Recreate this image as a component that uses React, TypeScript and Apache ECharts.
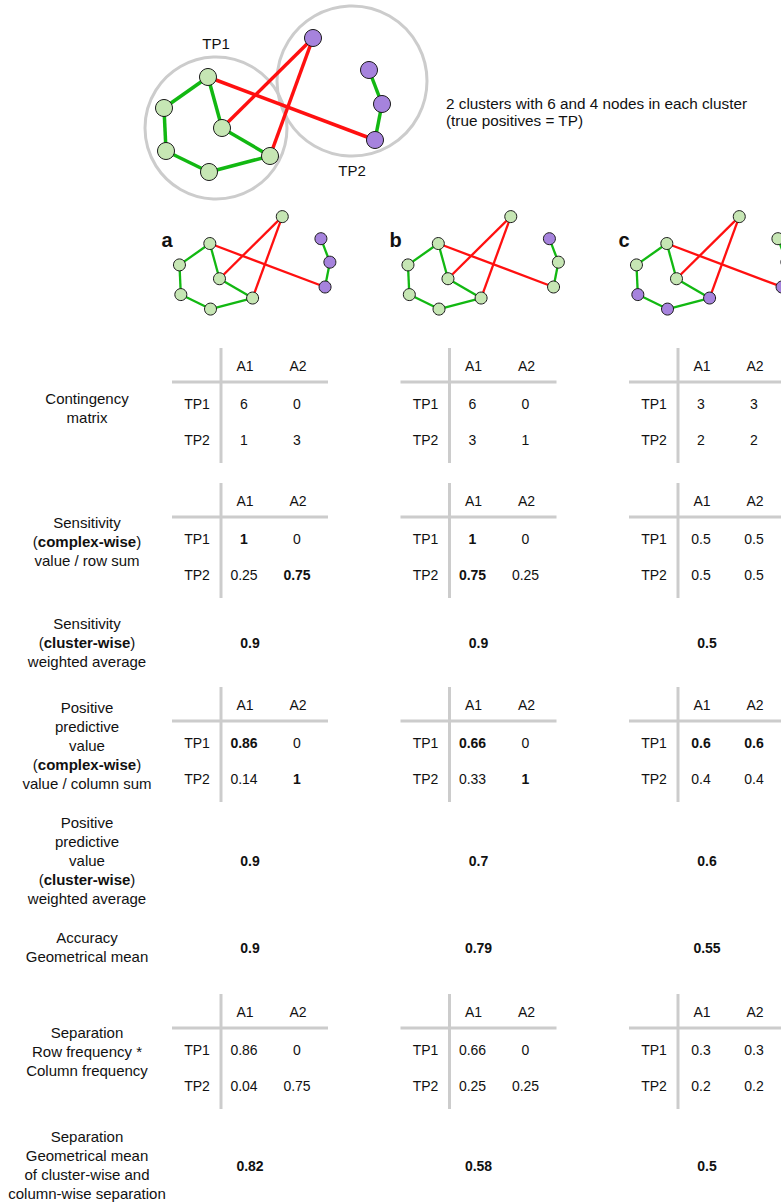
import React, { useEffect, useRef } from "react";
import * as echarts from "echarts";

// ---- Network: node layout (reference layout units) and clustering ----
const nodeX = [208, 164, 222, 166, 209, 270, 313, 369, 382, 375];
const nodeY = [77, 108, 128, 151, 172, 156, 38, 70, 104, 140];
// true complexes: 0 = TP1, 1 = TP2
const trueCluster = [0, 0, 0, 0, 0, 0, 1, 1, 1, 1];
const edges: [number, number][] = [
  [0, 1], [1, 3], [3, 4], [4, 5], [5, 2], [2, 0],
  [7, 8], [8, 9],
  [0, 9], [2, 6], [5, 6],
];
// predicted clusters per panel: 0 = A1, 1 = A2
const panelNames = ["a", "b", "c"];
const predicted = [
  [0, 0, 0, 0, 0, 0, 0, 1, 1, 1],
  [0, 0, 0, 0, 0, 0, 0, 1, 0, 0],
  [0, 0, 0, 1, 1, 1, 0, 0, 1, 1],
];
// cluster outlines (centre x, centre y, radius) and names
const hullNames = ["TP1", "TP2"];
const hullX = [216, 352];
const hullY = [128, 81];
const hullR = [71, 75];

// ---- Tables ----
const columnLabels = ["A1", "A2"];
const rowLabels = ["TP1", "TP2"];
const contingency = [
  [[6, 0], [1, 3]],
  [[6, 0], [3, 1]],
  [[3, 3], [2, 2]],
];
const sensComplex = [
  [[1, 0], [0.25, 0.75]],
  [[1, 0], [0.75, 0.25]],
  [[0.5, 0.5], [0.5, 0.5]],
];
const sensComplexBold = [
  [[1, 0], [0, 1]],
  [[1, 0], [1, 0]],
  [[0, 0], [0, 0]],
];
const sensCluster = [0.9, 0.9, 0.5];
const ppvComplex = [
  [[0.86, 0], [0.14, 1]],
  [[0.66, 0], [0.33, 1]],
  [[0.6, 0.6], [0.4, 0.4]],
];
const ppvComplexBold = [
  [[1, 0], [0, 1]],
  [[1, 0], [0, 1]],
  [[1, 1], [0, 0]],
];
const ppvCluster = [0.9, 0.7, 0.6];
const accuracy = [0.9, 0.79, 0.55];
const separation = [
  [[0.86, 0], [0.04, 0.75]],
  [[0.66, 0], [0.25, 0.25]],
  [[0.3, 0.3], [0.2, 0.2]],
];
const separationMean = [0.82, 0.58, 0.5];

// row captions; {b|...} marks bold words
const captionContingency = ["Contingency", "matrix"];
const captionSensComplex = ["Sensitivity", "({b|complex-wise})", "value / row sum"];
const captionSensCluster = ["Sensitivity", "({b|cluster-wise})", "weighted average"];
const captionPpvComplex = ["Positive", "predictive", "value", "({b|complex-wise})", "value / column sum"];
const captionPpvCluster = ["Positive", "predictive", "value", "({b|cluster-wise})", "weighted average"];
const captionAccuracy = ["Accuracy", "Geometrical mean"];
const captionSeparation = ["Separation", "Row frequency *", "Column frequency"];
const captionSepMean = ["Separation", "Geometrical mean", "of cluster-wise and", "column-wise separation"];
const descriptionLines = [
  "2 clusters with 6 and 4 nodes in each cluster",
  "(true positives = TP)",
];

// ---- styling ----
const FONT = '"Liberation Sans", Arial, Helvetica, sans-serif';
const FILLS = ["#c6e6b4", "#a683dd"];
const EDGE_IN = "#12b812";
const EDGE_OUT = "#ff1010";
const GRID_GRAY = "#cccccc";
const COL_STEP = 228.5;
const WIDTH = 781;
const HEIGHT = 1202;

function graphSeries(axisIndex: number, groups: number[], size: number, width: number) {
  return {
    type: "graph",
    coordinateSystem: "cartesian2d",
    xAxisIndex: axisIndex,
    yAxisIndex: axisIndex,
    symbol: "circle",
    symbolSize: size,
    silent: true,
    z: 3,
    label: { show: false },
    emphasis: { disabled: true },
    data: nodeX.map((x, i) => ({
      value: [x, nodeY[i]],
      itemStyle: { color: FILLS[groups[i]], borderColor: "#1a1a1a", borderWidth: 1, opacity: 1 },
    })),
    links: edges.map(([s, t]) => ({
      source: s,
      target: t,
      lineStyle: {
        color: trueCluster[s] === trueCluster[t] ? EDGE_IN : EDGE_OUT,
        width,
        opacity: 1,
        curveness: 0,
      },
    })),
  };
}

function text(x: number, y: number, str: string, opts: any = {}) {
  const hasRich = str.indexOf("{b|") >= 0;
  const size = opts.size ?? 14;
  const weight = opts.bold ? "bold" : "normal";
  let content = str;
  if (hasRich) {
    // wrap the plain parts as tokens
    content = str
      .split(/(\{b\|[^}]*\})/)
      .filter((p) => p.length)
      .map((p) => (p.startsWith("{b|") ? p : `{n|${p}}`))
      .join("");
  }
  return {
    type: "text",
    x,
    y,
    silent: true,
    z: 10,
    style: {
      text: content,
      fontFamily: FONT,
      fontSize: size,
      fontWeight: weight,
      fill: "#111",
      align: opts.align ?? "center",
      verticalAlign: "middle",
      rich: hasRich
        ? {
            n: { fontFamily: FONT, fontSize: size, fontWeight: "normal", fill: "#111" },
            b: { fontFamily: FONT, fontSize: size, fontWeight: "bold", fill: "#111" },
          }
        : undefined,
    },
  };
}

function caption(lines: string[], centerY: number) {
  const lh = 19;
  const y0 = centerY - ((lines.length - 1) * lh) / 2;
  return lines.map((l, i) => text(87, y0 + i * lh, l, { size: 15 }));
}

function table(col: number, headerY: number, values: number[][], bold?: number[][]) {
  const off = col * COL_STEP;
  const els: any[] = [];
  els.push({
    type: "line",
    silent: true,
    shape: { x1: 221 + off, y1: headerY - 18, x2: 221 + off, y2: headerY + 97 },
    style: { stroke: GRID_GRAY, lineWidth: 3 },
  });
  els.push({
    type: "line",
    silent: true,
    shape: { x1: 172 + off, y1: headerY + 16, x2: 328 + off, y2: headerY + 16 },
    style: { stroke: GRID_GRAY, lineWidth: 3 },
  });
  const cx = [245 + off, 298 + off];
  columnLabels.forEach((c, j) => els.push(text(cx[j], headerY, c)));
  rowLabels.forEach((r, i) => {
    const y = headerY + 38 + i * 36;
    els.push(text(197 + off, y, r));
    values[i].forEach((v, j) => {
      els.push(text(cx[j] - 1, y, String(v), { bold: bold ? bold[i][j] === 1 : false }));
    });
  });
  return els;
}

function single(col: number, y: number, v: number) {
  return text(250 + col * COL_STEP, y, String(v), { bold: true });
}

export default function App() {
  const ref = useRef<HTMLDivElement>(null);

  useEffect(() => {
    if (!ref.current) return;
    document.body.style.margin = "0";
    const chart = echarts.init(ref.current, undefined, { renderer: "svg" });

    // axes: index 0 = overview network (1:1 pixel scale), 1..3 = panels a, b, c
    const grids: any[] = [{ left: 0, top: 0, width: WIDTH, height: 200 }];
    const xAxes: any[] = [{ type: "value", gridIndex: 0, min: 0, max: WIDTH, show: false }];
    const yAxes: any[] = [{ type: "value", gridIndex: 0, min: 0, max: 200, inverse: true, show: false }];
    const scale = 0.69;
    const xMin = 130;
    const xSpan = 320;
    panelNames.forEach((_, p) => {
      const left = 156 + p * COL_STEP;
      // keep the grid inside the canvas; the axis range shrinks with it so the scale stays 0.69
      const w = Math.min(xSpan * scale, WIDTH - left);
      grids.push({ left, top: 204.2, width: w, height: 170 * scale });
      xAxes.push({ type: "value", gridIndex: p + 1, min: xMin, max: xMin + w / scale, show: false });
      yAxes.push({ type: "value", gridIndex: p + 1, min: 20, max: 190, inverse: true, show: false });
    });

    const series: any[] = [
      {
        type: "scatter",
        xAxisIndex: 0,
        yAxisIndex: 0,
        silent: true,
        z: 1,
        symbol: "circle",
        itemStyle: { color: "rgba(0,0,0,0)", borderColor: GRID_GRAY, borderWidth: 3, opacity: 1 },
        emphasis: { disabled: true },
        data: hullNames.map((n, i) => ({
          name: n,
          value: [hullX[i], hullY[i]],
          symbolSize: hullR[i] * 2,
          label: {
            show: true,
            formatter: n,
            position: i === 0 ? "top" : "bottom",
            distance: 5,
            color: "#111",
            opacity: 1,
            fontFamily: FONT,
            fontSize: 15,
          },
        })),
      },
      graphSeries(0, trueCluster, 17, 3.5),
      ...panelNames.map((_, p) => graphSeries(p + 1, predicted[p], 12, 2.3)),
    ];

    const graphic: any[] = [];
    descriptionLines.forEach((l, i) =>
      graphic.push(text(446, 103 + i * 17.5, l, { size: 15.3, align: "left" }))
    );
    panelNames.forEach((n, p) =>
      graphic.push(text(167 + p * COL_STEP, 240, n, { size: 20, bold: true }))
    );

    graphic.push(...caption(captionContingency, 408));
    graphic.push(...caption(captionSensComplex, 541));
    graphic.push(...caption(captionSensCluster, 642.5));
    graphic.push(...caption(captionPpvComplex, 745));
    graphic.push(...caption(captionPpvCluster, 860));
    graphic.push(...caption(captionAccuracy, 946.7));
    graphic.push(...caption(captionSeparation, 1051));
    graphic.push(...caption(captionSepMean, 1165));

    panelNames.forEach((_, p) => {
      graphic.push(...table(p, 366, contingency[p]));
      graphic.push(...table(p, 501, sensComplex[p], sensComplexBold[p]));
      graphic.push(single(p, 643, sensCluster[p]));
      graphic.push(...table(p, 705, ppvComplex[p], ppvComplexBold[p]));
      graphic.push(single(p, 861, ppvCluster[p]));
      graphic.push(single(p, 947.5, accuracy[p]));
      graphic.push(...table(p, 1012, separation[p]));
      graphic.push(single(p, 1166, separationMean[p]));
    });

    chart.setOption({
      animation: false,
      backgroundColor: "#ffffff",
      tooltip: { show: false },
      grid: grids,
      xAxis: xAxes,
      yAxis: yAxes,
      series,
      graphic,
    });

    return () => chart.dispose();
  }, []);

  return <div ref={ref} style={{ width: WIDTH, height: HEIGHT }} />;
}
